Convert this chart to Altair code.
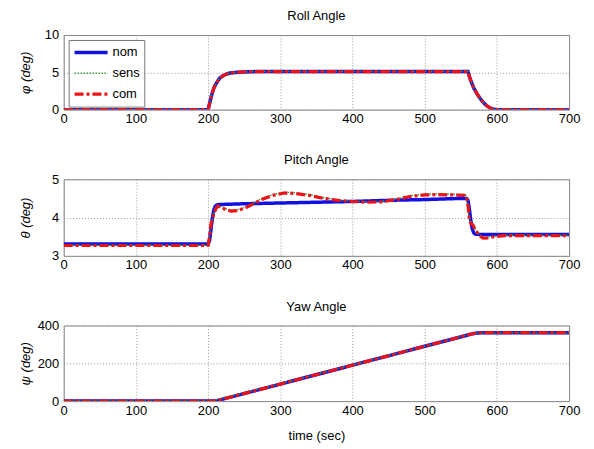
import altair as alt
import pandas as pd

series = ["nom", "sens", "com"]
colors = ["#1010e0", "#3a9a3a", "#ec1318"]
dashes = [[1, 0], [1.5, 1.5], [9, 3, 3, 3]]
widths = [3.5, 1.5, 3.2]

x_ticks = [0, 100, 200, 300, 400, 500, 600, 700]

# ---- Roll angle ----
roll_t = [0, 200, 202, 204, 206, 208, 210, 213, 216, 220, 225, 230, 240, 250, 265, 280,
          560, 562, 565, 568, 572, 576, 580, 585, 590, 595, 600, 700]
roll_nom = [0, 0, 0.8, 1.6, 2.3, 2.9, 3.3, 3.8, 4.2, 4.5, 4.75, 4.9, 5.0, 5.05, 5.1, 5.1,
            5.1, 4.4, 3.6, 2.9, 2.2, 1.6, 1.1, 0.6, 0.25, 0.05, 0, 0]
roll_sens = [0, 0, 0.8, 1.6, 2.3, 2.9, 3.3, 3.8, 4.2, 4.5, 4.75, 4.9, 5.0, 5.05, 5.1, 5.1,
             5.1, 4.4, 3.6, 2.9, 2.2, 1.6, 1.1, 0.6, 0.25, 0.05, 0, 0]
roll_com = [0, 0, 0.8, 1.6, 2.3, 2.9, 3.3, 3.8, 4.2, 4.5, 4.75, 4.9, 5.0, 5.05, 5.1, 5.1,
            5.1, 4.4, 3.6, 2.9, 2.2, 1.6, 1.1, 0.6, 0.25, 0.05, 0, 0]
roll_ticks = [0, 5, 10]

# ---- Pitch angle ----
pitch_t_nom = [0, 200, 202, 204, 206, 208, 210, 212, 215, 250, 300, 350, 400, 450, 500, 550,
               558, 560, 562, 564, 566, 568, 570, 575, 700]
pitch_nom = [3.31, 3.31, 3.4, 3.7, 4.0, 4.2, 4.3, 4.33, 4.34, 4.36, 4.38, 4.40, 4.42, 4.45,
             4.47, 4.5, 4.5, 4.45, 4.2, 3.9, 3.7, 3.6, 3.57, 3.56, 3.56]
pitch_t_com = [0, 200, 202, 204, 206, 208, 210, 213, 218, 225, 232, 240, 250, 262, 275, 290,
               305, 320, 340, 360, 380, 400, 420, 440, 460, 480, 500, 520, 540, 555, 558, 560,
               562, 564, 567, 570, 575, 580, 585, 590, 600, 610, 700]
pitch_com = [3.27, 3.27, 3.5, 3.85, 3.95, 4.1, 4.2, 4.3, 4.27, 4.2, 4.17, 4.18, 4.24, 4.35,
             4.48, 4.58, 4.64, 4.63, 4.58, 4.5, 4.45, 4.42, 4.4, 4.41, 4.47, 4.55, 4.59, 4.6,
             4.59, 4.58, 4.55, 4.3, 3.95, 3.85, 3.8, 3.68, 3.55, 3.47, 3.46, 3.48, 3.51, 3.53,
             3.53]
pitch_sens = [3.28, 3.28, 3.52, 3.86, 3.97, 4.12, 4.22, 4.31, 4.28, 4.22, 4.19, 4.2, 4.26,
              4.37, 4.5, 4.6, 4.66, 4.65, 4.6, 4.52, 4.46, 4.43, 4.41, 4.42, 4.48, 4.57, 4.61,
              4.62, 4.61, 4.6, 4.57, 4.32, 3.97, 3.87, 3.82, 3.7, 3.57, 3.49, 3.48, 3.5, 3.52,
              3.54, 3.54]
pitch_ticks = [3.0, 4.0, 5.0]

# ---- Yaw angle ----
yaw_t = [0, 210, 300, 400, 500, 560, 566, 572, 580, 700]
yaw_nom = [0, 0, 90, 190, 290, 350, 356, 360, 362, 362]
yaw_t_sens = [0, 203, 300, 400, 500, 560, 566, 572, 580, 700]
yaw_sens = [0, 0, 92, 191, 291, 351, 357, 360, 362, 362]
yaw_com = [0, 0, 90, 190, 290, 350, 356, 360, 362, 362]
yaw_ticks = [0, 200, 400]

FONT = "Liberation Sans"


def make_df(ts, vs):
    rows = []
    for s, t, v in zip(series, ts, vs):
        for ti, vi in zip(t, v):
            rows.append({"t": ti, "v": vi, "s": s})
    return pd.DataFrame(rows)


def panel(df, title, ytitle, ydom, yticks, h, legend, xtitle):
    if legend:
        leg = alt.Legend(orient="none", legendX=5, legendY=5, symbolType="stroke",
                         symbolSize=1100, clipHeight=17, labelFontSize=13, labelFont=FONT,
                         labelColor="black", padding=4, rowPadding=4,
                         strokeColor="#777777", fillColor="white", labelOffset=3)
    else:
        leg = None
    xaxis = alt.Axis(values=x_ticks, labelFontSize=13, labelFont=FONT, labelColor="black",
                     labelPadding=3, ticks=False, domain=False, grid=True,
                     gridDash=[1, 2], gridColor="#999999", labelFlush=False,
                     labelOverlap=False,
                     titleFontSize=13, titleFont=FONT, titleFontWeight="normal",
                     titleColor="black", titlePadding=13)
    yaxis = alt.Axis(values=yticks, labelExpr="format(datum.value, '~g')",
                     labelFontSize=13, labelFont=FONT, tickCount=len(yticks),
                     labelColor="black", labelPadding=5, ticks=False, domain=False,
                     grid=True, gridDash=[1, 2], gridColor="#999999", labelFlush=False,
                     labelOverlap=False,
                     title=ytitle, titleFontSize=13, titleFont=FONT,
                     titleFontWeight="normal", titleColor="black", titleX=-31,
                     titleFontStyle="italic")
    enc = dict(
        x=alt.X("t:Q", scale=alt.Scale(domain=[0, 700], nice=False),
                axis=xaxis, title=xtitle if xtitle else None),
        y=alt.Y("v:Q", scale=alt.Scale(domain=ydom, nice=False), axis=yaxis),
        color=alt.Color("s:N", scale=alt.Scale(domain=series, range=colors),
                        legend=leg, title=None),
        strokeDash=alt.StrokeDash("s:N", scale=alt.Scale(domain=series, range=dashes),
                                  legend=leg, title=None),
        strokeWidth=alt.StrokeWidth("s:N", scale=alt.Scale(type="ordinal", domain=series,
                                                            range=widths),
                                    legend=leg, title=None),
    )
    base = alt.Chart(df).mark_line(clip=True, strokeCap="butt").encode(**enc)
    layers = [base.transform_filter(alt.datum.s == s) for s in series]
    return alt.layer(*layers).properties(
        width=508, height=h,
        title=alt.TitleParams(title, fontSize=13, font=FONT, fontWeight="normal",
                              color="black", anchor="middle", offset=6),
    )


p1 = panel(make_df([roll_t, roll_t, roll_t], [roll_nom, roll_sens, roll_com]),
           "Roll Angle", "φ  (deg)", [0, 10], roll_ticks, 75, True, None)
p2 = panel(make_df([pitch_t_nom, pitch_t_com, pitch_t_com], [pitch_nom, pitch_sens, pitch_com]),
           "Pitch Angle", "θ  (deg)", [3, 5], pitch_ticks, 77, False, None)
p3 = panel(make_df([yaw_t, yaw_t_sens, yaw_t], [yaw_nom, yaw_sens, yaw_com]),
           "Yaw Angle", "ψ  (deg)", [0, 400], yaw_ticks, 76, False, "time (sec)")

chart = alt.vconcat(p1, p2, p3, spacing=27).resolve_scale(
    color="independent", strokeDash="independent", strokeWidth="independent"
).configure_view(stroke="#808080", strokeWidth=1).properties(
    padding={"left": 11, "top": 0, "right": 5, "bottom": 5},
    background="white",
)

chart.save("out.html", embed_options={"renderer": "svg", "actions": False})
